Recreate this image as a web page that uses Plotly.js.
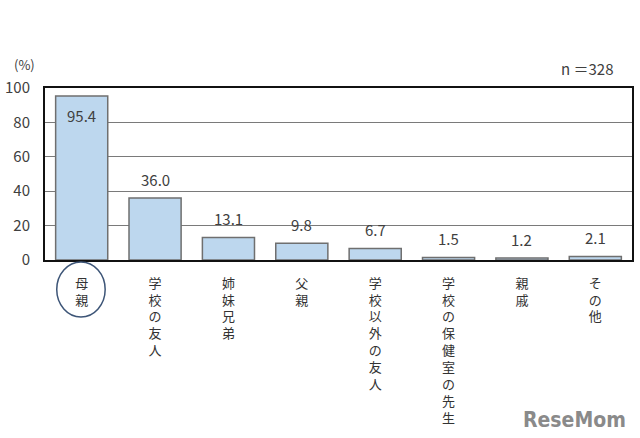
<!DOCTYPE html>
<html><head><meta charset="utf-8">
<script src="https://cdn.plot.ly/plotly-3.0.1.min.js"></script>
<style>html,body{margin:0;padding:0;background:#fff}</style>
</head><body>
<div id="chart" style="width:640px;height:438px"></div>
<script>
const categories = ["母親","学校の友人","姉妹兄弟","父親","学校以外の友人","学校の保健室の先生","親戚","その他"];
const values = [95.4, 36.0, 13.1, 9.8, 6.7, 1.5, 1.2, 2.1];
const valueLabels = ["95.4","36.0","13.1","9.8","6.7","1.5","1.2","2.1"];
const yTicks = [0,20,40,60,80,100];

const FONT = '"Noto Sans CJK JP", "Noto Sans", sans-serif';
const tickText = categories.map(c => Array.from(c).join('<br>'));

const annotations = values.map((v,i) => ({
  x: categories[i], y: v, xref:'x', yref:'y', text: valueLabels[i], showarrow:false,
  yanchor: i===0 ? 'top' : 'bottom', yshift: i===0 ? -7 : 6,
  font:{family:FONT, size:15, color:'#404040'}
}));
annotations.push({xref:'paper', yref:'paper', x:1, y:1, xanchor:'right', yanchor:'bottom', yshift:7, xshift:-16,
  text:'n ＝328', showarrow:false, font:{family:FONT, size:15, color:'#404040'}});
annotations.push({xref:'paper', yref:'paper', x:0, y:1, xanchor:'center', yanchor:'bottom', xshift:-21, yshift:12,
  text:'(%)', showarrow:false, font:{family:FONT, size:13, color:'#404040'}});
annotations.push({xref:'paper', yref:'paper', x:1, y:0, xanchor:'right', yanchor:'top', yshift:-146, xshift:-4,
  text:'<b>ReseMom</b>', showarrow:false, font:{family:'"DejaVu Sans Condensed", "Liberation Sans Narrow", sans-serif', size:21, color:'#8a8a8a'}});

const layout = {
  width:640, height:438,
  margin:{l:45, r:8, t:88, b:178},
  paper_bgcolor:'#fff', plot_bgcolor:'#fff',
  showlegend:false,
  bargap:0.29,
  xaxis:{type:'category', tickvals:categories, ticktext:tickText, tickangle:0,
    showline:true, mirror:true, linecolor:'#111', linewidth:2, ticks:'',
    tickfont:{family:FONT, size:13, color:'#333'}, ticklabelstandoff:10},
  yaxis:{range:[0,100], tickvals:yTicks, ticktext:yTicks.map(String),
    showline:true, mirror:true, linecolor:'#111', linewidth:2,
    showgrid:true, gridcolor:'#7a7a7a', gridwidth:1, zeroline:false, ticks:'',
    tickfont:{family:FONT, size:15, color:'#404040'}, ticklabelstandoff:10},
  annotations: annotations,
  shapes:[{type:'circle', xref:'x', yref:'paper', x0:-0.34, x1:0.32, y0:-0.331, y1:-0.012,
    line:{color:'#3d5577', width:1.5}}]
};

Plotly.newPlot('chart', [{
  type:'bar', x:categories, y:values,
  marker:{color:'#bdd7ee', line:{color:'#6f6f6f', width:1.5}},
  hoverinfo:'none'
}], layout, {staticPlot:true});
</script>
</body></html>
